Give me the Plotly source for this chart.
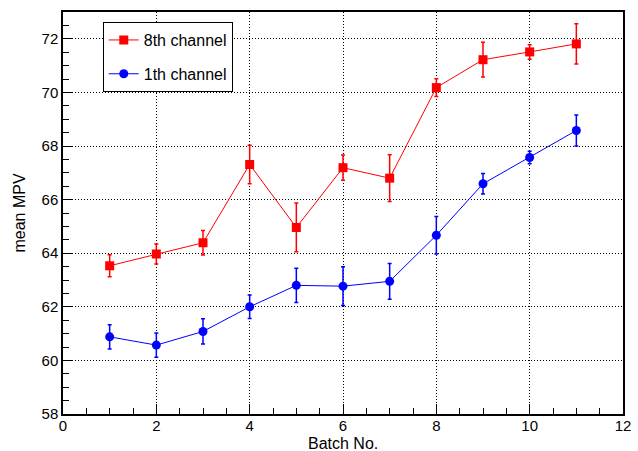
import plotly.graph_objects as go

batch = [1, 2, 3, 4, 5, 6, 7, 8, 9, 10, 11]
ch8_mpv = [63.53, 63.97, 64.39, 67.31, 64.96, 67.19, 66.80, 70.18, 71.22, 71.51, 71.81]
ch8_err = [0.41, 0.37, 0.46, 0.72, 0.91, 0.47, 0.87, 0.33, 0.65, 0.27, 0.75]
ch1_mpv = [60.88, 60.57, 61.08, 62.00, 62.80, 62.77, 62.95, 64.67, 66.59, 67.57, 68.58]
ch1_err = [0.45, 0.45, 0.47, 0.44, 0.64, 0.72, 0.67, 0.70, 0.38, 0.23, 0.58]

FONT = "Liberation Sans, Arial, sans-serif"
FS = 16
TFS = 15

fig = go.Figure()
fig.add_trace(go.Scatter(
    x=batch, y=ch8_mpv, name="8th channel", mode="lines+markers",
    line=dict(color="#ff0000", width=1),
    marker=dict(symbol="square", size=9, color="#ff0000"),
    error_y=dict(type="data", array=ch8_err, color="#ff0000", thickness=1.5, width=2),
    legendgroup="a",
))
fig.add_trace(go.Scatter(
    x=batch, y=ch1_mpv, name="1th channel", mode="lines+markers",
    line=dict(color="#0000ff", width=1),
    marker=dict(symbol="circle", size=9, color="#0000ff"),
    error_y=dict(type="data", array=ch1_err, color="#0000ff", thickness=1.5, width=2),
    legendgroup="b",
))

axis_common = dict(
    showline=True, linecolor="black", linewidth=1.5, mirror=True,
    ticks="inside", tickcolor="black", ticklen=10,
    showgrid=True, gridcolor="black", griddash="1px,2px", gridwidth=1,
    zeroline=False, automargin=False,
    tickfont=dict(family=FONT, size=TFS, color="black"),
    title_font=dict(family=FONT, size=FS, color="black"),
)

fig.update_xaxes(
    range=[0, 12], tick0=0, dtick=2,
    minor=dict(dtick=0.5, ticks="inside", ticklen=6, tickcolor="black", showgrid=False),
    ticklabelstandoff=-3,
    **axis_common,
)
fig.update_yaxes(
    range=[58, 73], tick0=58, dtick=2,
    minor=dict(dtick=0.5, ticks="inside", ticklen=6, tickcolor="black", showgrid=False),
    title_text="mean MPV", title_standoff=12,
    **axis_common,
)

fig.add_annotation(
    text="Batch No.", xref="paper", yref="paper", x=0.5, y=0,
    xanchor="center", yanchor="top", yshift=-19, showarrow=False,
    font=dict(family=FONT, size=FS, color="black"),
)

fig.update_layout(
    width=638, height=451,
    margin=dict(l=63, r=15, t=12, b=37),
    paper_bgcolor="white", plot_bgcolor="white",
    font=dict(family=FONT, size=FS, color="black"),
    showlegend=True,
    legend=dict(
        x=0.071, y=0.975, xanchor="left", yanchor="top",
        bgcolor="white", bordercolor="black", borderwidth=1,
        font=dict(family=FONT, size=FS, color="black"),
        tracegroupgap=10, traceorder="grouped",
    ),
)

fig.write_html("out.html")
